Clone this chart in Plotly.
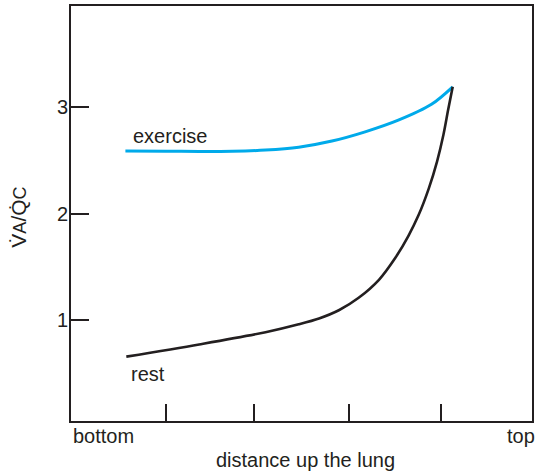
import plotly.graph_objects as go

# Position along the lung (0 = bottom, 5 = top) and ventilation/perfusion ratio
rest_x = [0.60, 1.39, 2.11, 2.47, 2.69, 2.91, 3.12, 3.34, 3.52, 3.66, 3.77, 3.88, 3.97, 4.04, 4.09, 4.14]
rest_y = [0.65, 0.765, 0.88, 0.955, 1.01, 1.09, 1.205, 1.375, 1.585, 1.79, 1.985, 2.235, 2.49, 2.745, 2.975, 3.195]

exercise_x = [0.59, 1.03, 1.39, 1.75, 2.11, 2.47, 2.83, 3.19, 3.55, 3.91, 4.14]
exercise_y = [2.59, 2.588, 2.585, 2.587, 2.598, 2.625, 2.683, 2.77, 2.88, 3.03, 3.195]

y_ticks = [1, 2, 3]
x_ticks = [1.03, 1.99, 3.02, 4.01]

INK = "#231f20"
CYAN = "#00aaea"
FONT = "Liberation Sans, Arial, sans-serif"

fig = go.Figure()
fig.add_trace(go.Scatter(x=exercise_x, y=exercise_y, mode="lines",
                         line=dict(color=CYAN, width=3, shape="spline", smoothing=0.9,
                                   simplify=False),
                         hoverinfo="skip"))
fig.add_trace(go.Scatter(x=rest_x, y=rest_y, mode="lines",
                         line=dict(color=INK, width=2.6, shape="spline", smoothing=0.9,
                                   simplify=False),
                         hoverinfo="skip"))

fig.update_layout(
    width=538, height=473,
    margin=dict(l=71, r=4, t=5, b=52),
    paper_bgcolor="white", plot_bgcolor="white",
    showlegend=False,
    font=dict(family=FONT, size=20, color=INK),
    xaxis=dict(range=[0, 5], tickvals=x_ticks, showticklabels=False,
               ticks="inside", ticklen=17, tickwidth=1.5, tickcolor=INK,
               showline=True, linewidth=2, linecolor=INK, mirror=True,
               showgrid=False, zeroline=False, fixedrange=True),
    yaxis=dict(range=[0.043, 3.957], tickvals=y_ticks, ticktext=[str(v) for v in y_ticks],
               ticks="inside", ticklen=18, tickwidth=1.5, tickcolor=INK,
               tickfont=dict(size=20, color=INK), ticklabelstandoff=-3,
               showline=True, linewidth=2, linecolor=INK, mirror=True,
               showgrid=False, zeroline=False, fixedrange=True),
)

annots = [
    dict(text="exercise", x=1.07, y=2.73, xref="x", yref="y", showarrow=False,
         xanchor="center", yanchor="middle"),
    dict(text="rest", x=0.83, y=0.49, xref="x", yref="y", showarrow=False,
         xanchor="center", yanchor="middle"),
    dict(text="bottom", x=0, y=0, xref="paper", yref="paper", showarrow=False,
         xanchor="left", yanchor="middle", yshift=-15),
    dict(text="top", x=1, y=0, xref="paper", yref="paper", showarrow=False,
         xanchor="right", yanchor="middle", yshift=-15, xshift=5),
    dict(text="distance up the lung", x=0.508, y=0, xref="paper", yref="paper",
         showarrow=False, xanchor="center", yanchor="middle", yshift=-39),
    dict(text="V\u0307<span style='font-size:18px'>A</span>/Q\u0307<span style='font-size:18px'>C</span>",
         x=0, y=0.49, xref="paper", yref="paper", showarrow=False,
         font=dict(size=21), xanchor="center", yanchor="middle", xshift=-52, textangle=-90),
]
fig.update_layout(annotations=annots)

fig.write_html("out.html")
